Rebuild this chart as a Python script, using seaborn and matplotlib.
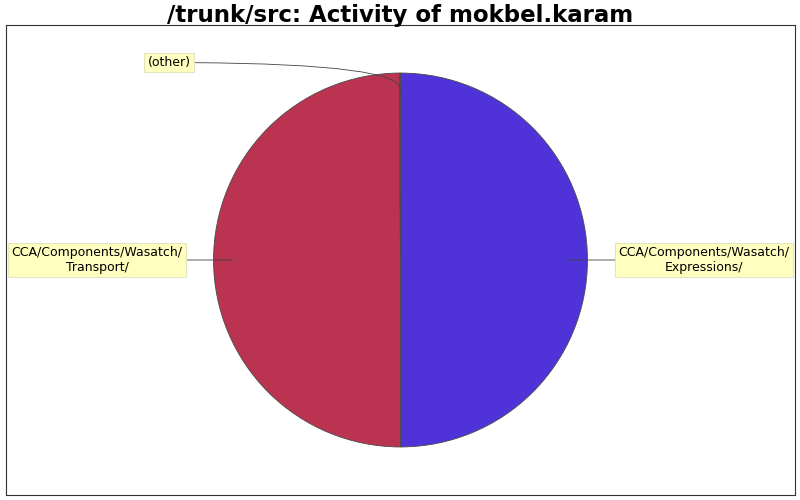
import matplotlib
matplotlib.use("Agg")
import matplotlib.pyplot as plt
import seaborn as sns

# slices, clockwise from 12 o'clock
labels = ["CCA/Components/Wasatch/\nExpressions/", "CCA/Components/Wasatch/\nTransport/", "(other)"]
shares = [50.0, 49.9, 0.1]
colors = ["#5033d8", "#ba3350", "#b03352"]

sns.set_style("white")
plt.rcParams['font.family'] = ['DejaVu Sans']
plt.rcParams['text.color'] = 'black'

fig = plt.figure(figsize=(8, 5), dpi=100)
ax = fig.add_axes([0.0075, 0.01, 0.98625, 0.94])

wedges, _ = ax.pie(shares, colors=colors, startangle=90, counterclock=False,
                   radius=1.0, frame=True,
                   wedgeprops=dict(edgecolor="#4a4a4a", linewidth=0.6))
ax.set_aspect("auto")
ax.set_xlim(-2.11, 2.11)
ax.set_ylim(-1.257, 1.257)

box = dict(boxstyle="square,pad=0.25", facecolor="#ffffc0", edgecolor="#e4e4c0", linewidth=0.8)
line = dict(arrowstyle="-", color="#444444", lw=0.6, shrinkA=0, shrinkB=0)
ax.annotate(labels[0], xy=(0.898, 0), xytext=(1.623, 0), ha="center", va="center",
            fontsize=9, bbox=box, arrowprops=line)
ax.annotate(labels[1], xy=(-0.898, 0), xytext=(-1.623, 0), ha="center", va="center",
            fontsize=9, bbox=box, arrowprops=line)
ax.annotate(labels[2], xy=(0.0, 0.91), xytext=(-1.238, 1.056), ha="center", va="center",
            fontsize=9, bbox=box,
            arrowprops=dict(line, connectionstyle="angle3,angleA=0,angleB=85"))

ax.set_frame_on(True)
for s in ax.spines.values():
    s.set_visible(True)
    s.set_color("#333333")
    s.set_linewidth(0.8)
ax.set_xticks([])
ax.set_yticks([])

fig.suptitle("/trunk/src: Activity of mokbel.karam", fontsize=16.5, fontweight="bold",
             y=0.992, va="top", color="black")
fig.savefig("out.png", dpi=100)
